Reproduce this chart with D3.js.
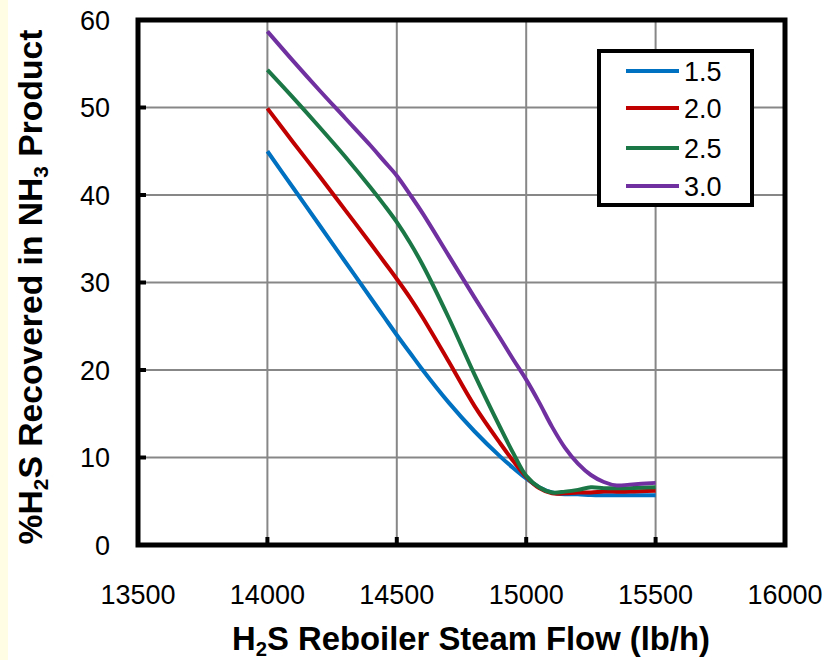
<!DOCTYPE html>
<html lang="en">
<head>
<meta charset="utf-8">
<title>H2S recovered vs reboiler steam flow</title>
<script src="https://d3js.org/d3.v7.min.js"></script>
<style>
  body { margin: 0; background: #fff; }
  text { font-family: "Liberation Sans", Arial, sans-serif; fill: #000; }
</style>
</head>
<body>
<script>
// Steam flow points (lb/h) shared by all the curves
var flow = [14000, 14100, 14200, 14300, 14400, 14450, 14500, 14550, 14600, 14700, 14800, 14900, 14950,
            15000, 15050, 15100, 15150, 15200, 15250, 15300, 15350, 15400, 15500];

// % H2S recovered
var s15 = [45.0, 40.8, 36.6, 32.4, 28.2, 26.1, 24.0, 22.0, 20.0, 16.3, 13.0, 10.1, 8.8,
           7.6, 6.6, 6.0, 5.8, 5.8, 5.7, 5.7, 5.7, 5.7, 5.7];
var s20 = [49.9, 46.0, 42.2, 38.3, 34.4, 32.4, 30.4, 28.3, 26.0, 21.0, 15.9, 11.6, 9.6,
           7.8, 6.5, 5.9, 5.9, 6.0, 6.0, 6.1, 6.1, 6.1, 6.2];
var s25 = [54.3, 51.1, 47.8, 44.4, 40.8, 38.9, 36.9, 34.6, 32.0, 26.0, 19.5, 13.4, 10.5,
           7.9, 6.6, 6.0, 6.1, 6.3, 6.6, 6.5, 6.5, 6.5, 6.6];
var s30 = [58.7, 55.3, 52.0, 48.8, 45.6, 43.9, 42.2, 40.1, 37.9, 33.1, 28.3, 23.6, 21.2,
           18.9, 16.3, 13.5, 11.1, 9.3, 8.0, 7.2, 6.8, 6.9, 7.1];

var seriesNames = ["1.5", "2.0", "2.5", "3.0"];
var seriesColors = ["#0070C0", "#C00000", "#1B7745", "#7030A0"];
var seriesData = [s15, s20, s25, s30];

var xTicks = [13500, 14000, 14500, 15000, 15500, 16000];
var yTicks = [0, 10, 20, 30, 40, 50, 60];

var w = 831, h = 660;

var svg = d3.select("body").append("svg")
    .attr("width", w)
    .attr("height", h);

// pale strip on the left edge of the picture
svg.append("rect").attr("x", 0).attr("y", 0).attr("width", 8).attr("height", h)
    .attr("fill", "#FFFDE4");

var x = d3.scaleLinear().domain([13500, 16000]).range([138, 785]);
var y = d3.scaleLinear().domain([0, 60]).range([545, 20]);

// gridlines
svg.append("g").selectAll("line")
    .data(xTicks.slice(1, -1))
    .enter().append("line")
    .attr("x1", function(d) { return x(d); })
    .attr("x2", function(d) { return x(d); })
    .attr("y1", y(60)).attr("y2", y(0))
    .attr("stroke", "#878787").attr("stroke-width", 2);

svg.append("g").selectAll("line")
    .data(yTicks.slice(1, -1))
    .enter().append("line")
    .attr("y1", function(d) { return y(d); })
    .attr("y2", function(d) { return y(d); })
    .attr("x1", x(13500)).attr("x2", x(16000))
    .attr("stroke", "#878787").attr("stroke-width", 2);

// small inward tick marks
svg.append("g").selectAll("line")
    .data(xTicks.slice(1, -1))
    .enter().append("line")
    .attr("x1", function(d) { return x(d); })
    .attr("x2", function(d) { return x(d); })
    .attr("y1", y(0)).attr("y2", y(0) - 8)
    .attr("stroke", "#000").attr("stroke-width", 4);

svg.append("g").selectAll("line")
    .data(yTicks.slice(1, -1))
    .enter().append("line")
    .attr("y1", function(d) { return y(d); })
    .attr("y2", function(d) { return y(d); })
    .attr("x1", x(13500)).attr("x2", x(13500) + 8)
    .attr("stroke", "#000").attr("stroke-width", 4);

// curves
var line = d3.line()
    .x(function(d, i) { return x(flow[i]); })
    .y(function(d) { return y(d); })
    .curve(d3.curveCatmullRom.alpha(0.5));

svg.append("g").selectAll("path")
    .data(seriesData)
    .enter().append("path")
    .attr("d", function(d) { return line(d); })
    .attr("fill", "none")
    .attr("stroke", function(d, i) { return seriesColors[i]; })
    .attr("stroke-width", 4)
    .attr("stroke-linejoin", "round");

// frame
svg.append("rect")
    .attr("x", x(13500)).attr("y", y(60))
    .attr("width", x(16000) - x(13500))
    .attr("height", y(0) - y(60))
    .attr("fill", "none").attr("stroke", "#000").attr("stroke-width", 5);

// tick labels
svg.append("g").selectAll("text")
    .data(yTicks)
    .enter().append("text")
    .attr("x", 110)
    .attr("y", function(d) { return y(d); })
    .attr("dy", "0.36em")
    .attr("text-anchor", "end")
    .style("font-size", "27px")
    .text(function(d) { return d; });

svg.append("g").selectAll("text")
    .data(xTicks)
    .enter().append("text")
    .attr("x", function(d) { return x(d); })
    .attr("y", 604)
    .attr("text-anchor", "middle")
    .style("font-size", "27px")
    .text(function(d) { return d; });

// axis titles with subscripts, squeezed to the width of the original
function title(g, parts, width) {
    var t = g.append("text")
        .style("font-size", "34px")
        .style("font-weight", "bold")
        .attr("text-anchor", "middle");
    parts.forEach(function(p) {
        var s = t.append("tspan").text(p[0]);
        if (p[1]) s.style("font-size", "21px").attr("dy", 6);
        else if (p[2]) s.attr("dy", -6);
    });
    var bw = t.node().getComputedTextLength();
    t.attr("transform", "scale(" + (width / bw) + ",1)");
    return t;
}

var xt = svg.append("g").attr("transform", "translate(471,650)");
title(xt, [["H"], ["2", true], ["S Reboiler Steam Flow (lb/h)", false, true]], 478);

var yt = svg.append("g").attr("transform", "translate(42,287) rotate(-90)");
title(yt, [["%H"], ["2", true], ["S Recovered in NH", false, true], ["3", true], [" Product", false, true]], 515);

// legend
var lg = svg.append("g");
lg.append("rect")
    .attr("x", 599).attr("y", 51).attr("width", 153).attr("height", 154)
    .attr("fill", "#fff").attr("stroke", "#000").attr("stroke-width", 4);

var legY = [71, 108, 148, 186];
seriesNames.forEach(function(n, i) {
    lg.append("line")
        .attr("x1", 626).attr("x2", 679)
        .attr("y1", legY[i]).attr("y2", legY[i])
        .attr("stroke", seriesColors[i]).attr("stroke-width", 4);
    lg.append("text")
        .attr("x", 684).attr("y", legY[i]).attr("dy", "0.36em")
        .style("font-size", "27px")
        .text(n);
});
</script>
</body>
</html>
